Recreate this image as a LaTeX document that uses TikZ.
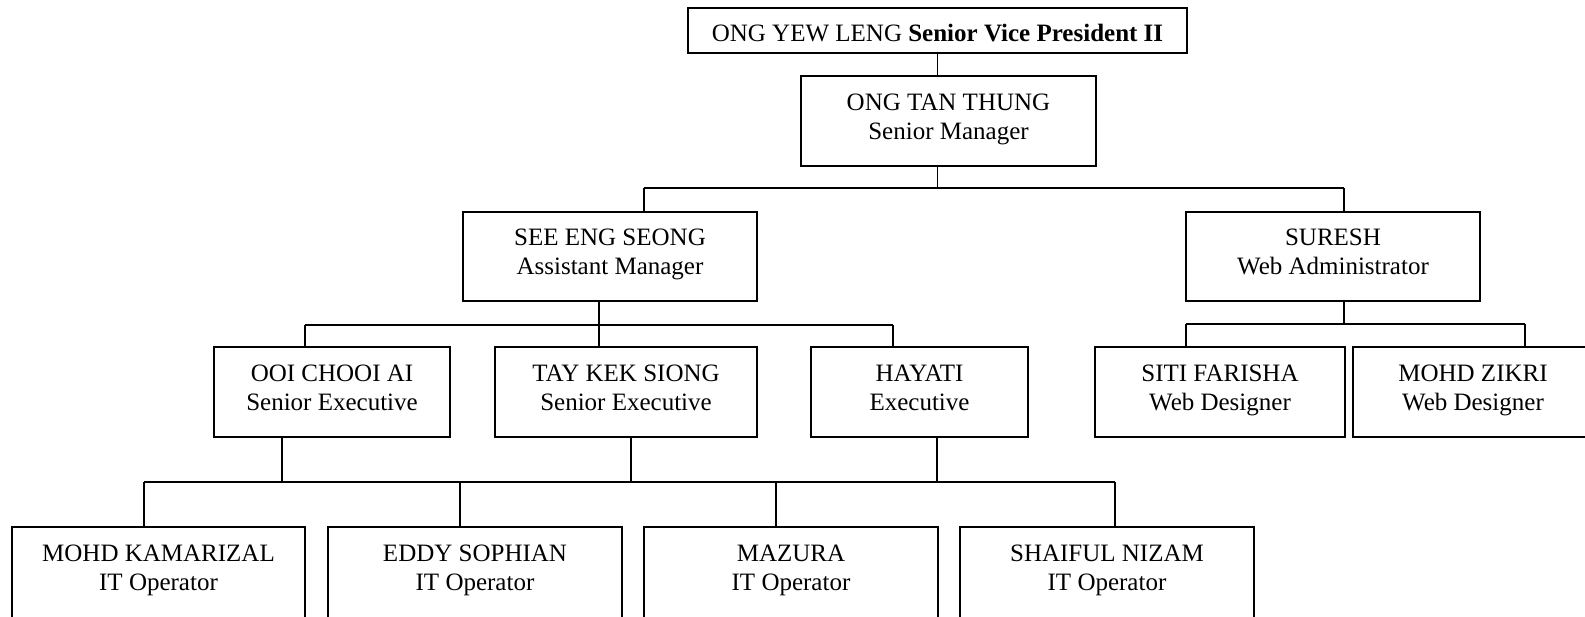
\documentclass[tikz,border=0pt]{standalone}
\usepackage{fontspec}
\setmainfont{Liberation Serif}
% two centred lines, nudged up a little inside the box
\newcommand{\twoline}[2]{\raisebox{2pt}[\height][\depth]{\begin{tabular}{@{}c@{}}#1\\#2\end{tabular}}}
\tikzset{
  box/.style={draw, rectangle, line width=1.8pt, inner sep=0pt, minimum height=90pt,
              font=\fontsize{25}{29}\selectfont},
  lowbox/.style={box, minimum height=100pt},
  link/.style={line width=1.6pt},
}
\begin{document}
\begin{tikzpicture}[x=1pt, y=-1pt]
\useasboundingbox (0,0) rectangle (1585,616);
\clip (0,0) rectangle (1585,616);

% ---- boxes ----
\node[box, minimum width=499pt, minimum height=45pt] (vp) at (937.5,30.5)
  {\raisebox{-5.5pt}[\height][\depth]{\strut ONG YEW LENG \textbf{Senior Vice President II}}};
\node[box, minimum width=295pt] (otu) at (948.5,121) {\twoline{ONG TAN THUNG}{Senior Manager}};

\node[box, minimum width=294pt, minimum height=89pt] (see) at (610,256.5) {\twoline{SEE ENG SEONG}{Assistant Manager}};
\node[box, minimum width=294pt, minimum height=89pt] (sur) at (1333,256.5) {\twoline{SURESH}{Web Administrator}};

\node[box, minimum width=236pt] (ooi) at (332,392) {\twoline{OOI CHOOI AI}{Senior Executive}};
\node[box, minimum width=262pt] (tay) at (626,392) {\twoline{TAY KEK SIONG}{Senior Executive}};
\node[box, minimum width=217pt] (hay) at (919.5,392) {\twoline{HAYATI}{Executive}};
\node[box, minimum width=250pt] (siti) at (1220,392) {\twoline{SITI FARISHA}{Web Designer}};
\node[box, minimum width=240pt] (zik) at (1473,392) {\twoline{MOHD ZIKRI}{Web Designer}};

% bottom row runs past the lower edge; text kept where a 90pt box would put it
\node[lowbox, minimum width=293pt] (kam) at (158.5,577) {\raisebox{5pt}[\height][\depth]{\twoline{MOHD KAMARIZAL}{IT Operator}}};
\node[lowbox, minimum width=294pt] (eddy) at (475,577) {\raisebox{5pt}[\height][\depth]{\twoline{EDDY SOPHIAN}{IT Operator}}};
\node[lowbox, minimum width=294pt] (maz) at (791,577) {\raisebox{5pt}[\height][\depth]{\twoline{MAZURA}{IT Operator}}};
\node[lowbox, minimum width=294pt] (sha) at (1107,577) {\raisebox{5pt}[\height][\depth]{\twoline{SHAIFUL NIZAM}{IT Operator}}};

% ---- connectors ----
\draw[link] (vp.south) -- (vp.south |- otu.north);

\coordinate (b1l) at (644,188);
\coordinate (b1m) at (937.5,188);
\coordinate (b1r) at (1344,188);
\draw[link] (otu.south -| b1m) -- (b1m);
\draw[link] (b1l) -- (b1r);
\draw[link] (b1l) -- (b1l |- see.north);
\draw[link] (b1r) -- (b1r |- sur.north);

\coordinate (b2l) at (305,325);
\coordinate (b2m) at (599,325);
\coordinate (b2r) at (893,325);
\draw[link] (see.south -| b2m) -- (b2m |- tay.north);
\draw[link] (b2l) -- (b2r);
\draw[link] (b2l) -- (b2l |- ooi.north);
\draw[link] (b2r) -- (b2r |- hay.north);

\coordinate (b3l) at (1186,324);
\coordinate (b3m) at (1344,324);
\coordinate (b3r) at (1525,324);
\draw[link] (sur.south -| b3m) -- (b3m);
\draw[link] (b3l) -- (b3r);
\draw[link] (b3l) -- (b3l |- siti.north);
\draw[link] (b3r) -- (b3r |- zik.north);

\coordinate (b4l) at (144,482);
\coordinate (b4r) at (1115,482);
\coordinate (u1) at (282,482);
\coordinate (u2) at (631,482);
\coordinate (u3) at (937,482);
\coordinate (d2) at (460,482);
\coordinate (d3) at (776,482);
\draw[link] (ooi.south -| u1) -- (u1);
\draw[link] (tay.south -| u2) -- (u2);
\draw[link] (hay.south -| u3) -- (u3);
\draw[link] (b4l) -- (b4r);
\draw[link] (b4l) -- (b4l |- kam.north);
\draw[link] (d2) -- (d2 |- eddy.north);
\draw[link] (d3) -- (d3 |- maz.north);
\draw[link] (b4r) -- (b4r |- sha.north);
\end{tikzpicture}
\end{document}
